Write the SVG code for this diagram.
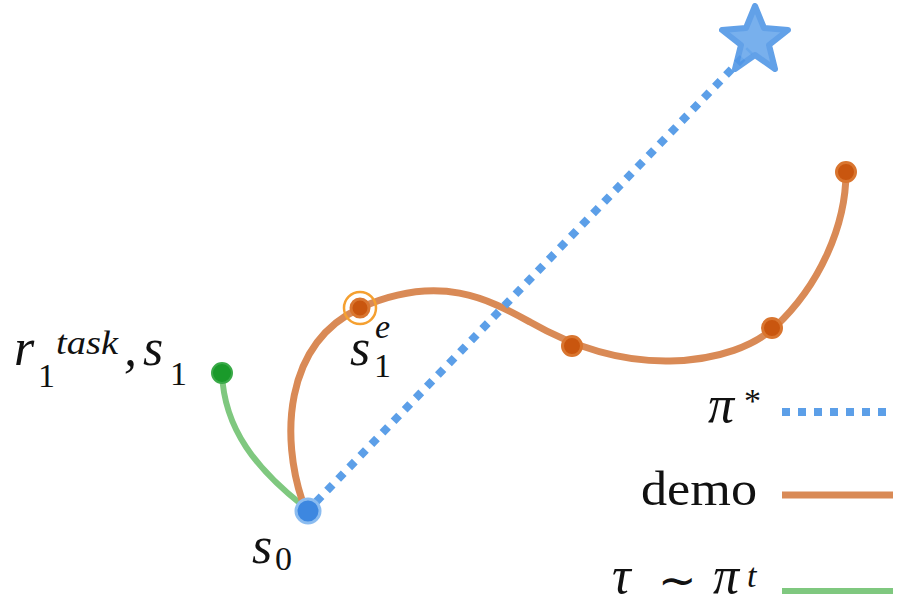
<svg xmlns="http://www.w3.org/2000/svg" width="904" height="611" viewBox="0 0 904 611">
<style>
.m{font-family:"Liberation Serif","DejaVu Serif",serif;font-style:italic;font-size:52px;fill:#111}
.n{font-family:"Liberation Serif","DejaVu Serif",serif;font-size:34px;fill:#111}
.sup{font-family:"Liberation Serif","DejaVu Serif",serif;font-style:italic;font-size:34px;fill:#111}
.rm{font-family:"Liberation Serif","DejaVu Serif",serif;font-size:48px;fill:#111}
.blue{stroke:#5c9fe8;stroke-width:8;stroke-dasharray:8 8;fill:none}
.orange{stroke:#d98a56;stroke-width:7;fill:none;stroke-linecap:butt}
.green{stroke:#7fc87f;stroke-width:6;fill:none}
.odot{fill:#c9560f;stroke:#d9752f;stroke-width:3}
</style>
<rect width="904" height="611" fill="#fff"/>
<g id="connectors">
<path class="green" d="M222,373 C224,430 258,470 302,505"/>
<path class="orange" d="M302,500 C282,440 282,345 360,308 C440,272 490,300 530,322 C565,342 615,362 670,361 C720,360 755,345 775,327 C820,285 846,225 846,172"/>
<line class="blue" x1="316" y1="502" x2="750" y2="50"/>
</g>
<g id="star">
<polygon points="755,6 764,28 788,30 769,45 775,69 755,55 735,69 741,45 722,30 746,28" fill="#6aa8ec" stroke="#5297e6" stroke-width="6" stroke-linejoin="round" opacity="0.9"/>
</g>
<g id="s0">
<circle cx="308" cy="511" r="12" fill="#3d87e0" stroke="#8bbcf0" stroke-width="3"/>
<text class="m" x="252" y="563">s</text>
<text class="n" x="275" y="570">0</text>
</g>
<g id="s1">
<circle cx="222" cy="373" r="10" fill="#1a9a2a" stroke="#3aaa48" stroke-width="2"/>
<text class="m" x="14" y="365">r</text>
<text class="n" x="38" y="387">1</text>
<text class="sup" x="56" y="354" textLength="62" lengthAdjust="spacingAndGlyphs">task</text>
<text class="m" x="124" y="365">,</text>
<text class="m" x="143" y="365">s</text>
<text class="n" x="170" y="385">1</text>
</g>
<g id="s1e">
<circle cx="360" cy="308" r="16" fill="none" stroke="#f5a030" stroke-width="2.5"/>
<circle class="odot" cx="360" cy="308" r="9"/>
<text class="m" x="350" y="365">s</text>
<text class="sup" x="375" y="338">e</text>
<text class="n" x="374" y="377">1</text>
</g>
<g id="d1"><circle class="odot" cx="572" cy="346" r="9.5"/></g>
<g id="d2"><circle class="odot" cx="772" cy="328" r="9.5"/></g>
<g id="d3"><circle class="odot" cx="846" cy="172" r="9.5"/></g>
<g id="legend">
<text class="m" x="708" y="422">π</text>
<text class="n" x="744" y="412">*</text>
<line class="blue" x1="782" y1="412" x2="893" y2="412"/>
<text class="rm" x="641" y="505" textLength="116" lengthAdjust="spacingAndGlyphs">demo</text>
<line class="orange" x1="782" y1="495" x2="893" y2="495"/>
<text class="m" x="612" y="593">τ</text>
<text x="658" y="596" font-family="DejaVu Sans, sans-serif" font-size="46" fill="#111">∼</text>
<text class="m" x="713" y="593">π</text>
<text class="sup" x="747" y="587">t</text>
<line class="green" x1="782" y1="591" x2="893" y2="591"/>
</g>
</svg>
